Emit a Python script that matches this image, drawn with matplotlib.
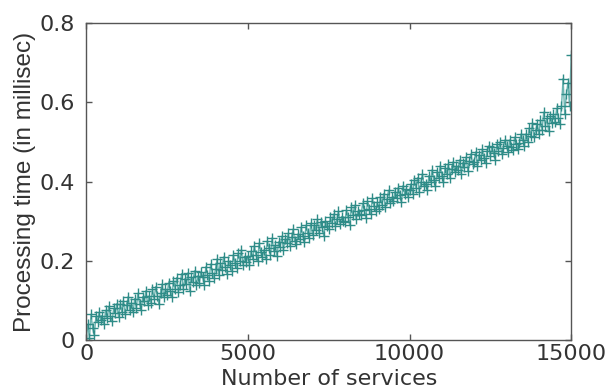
import numpy as np
import matplotlib
matplotlib.use("Agg")
import matplotlib.pyplot as plt

# number of services (step 50 from 0 to 15000)
services = np.arange(0, 15001, 50)

# processing time in millisec
proc_time = [
    0.000, 0.040, 0.005, 0.065, 0.030, 0.012, 0.060, 0.045, 0.070, 0.050,
    0.062, 0.040, 0.075, 0.055, 0.085, 0.060, 0.048, 0.080, 0.068, 0.092,
    0.058, 0.090, 0.072, 0.100, 0.065, 0.088, 0.110, 0.075, 0.095, 0.070,
    0.105, 0.080, 0.118, 0.092, 0.075, 0.110, 0.098, 0.125, 0.088, 0.112,
    0.095, 0.128, 0.105, 0.135, 0.112, 0.090, 0.120, 0.142, 0.108, 0.130,
    0.115, 0.145, 0.125, 0.108, 0.150, 0.130, 0.158, 0.122, 0.140, 0.168,
    0.130, 0.155, 0.142, 0.170, 0.125, 0.160, 0.148, 0.175, 0.138, 0.162,
    0.145, 0.172, 0.160, 0.140, 0.185, 0.165, 0.150, 0.192, 0.170, 0.158,
    0.180, 0.205, 0.165, 0.195, 0.178, 0.210, 0.185, 0.168, 0.200, 0.190,
    0.175, 0.215, 0.195, 0.182, 0.220, 0.200, 0.228, 0.190, 0.210, 0.198,
    0.212, 0.190, 0.225, 0.205, 0.238, 0.215, 0.200, 0.245, 0.222, 0.210,
    0.228, 0.205, 0.250, 0.232, 0.215, 0.258, 0.225, 0.240, 0.212, 0.248,
    0.235, 0.262, 0.228, 0.255, 0.245, 0.270, 0.238, 0.260, 0.280, 0.250,
    0.242, 0.268, 0.255, 0.285, 0.262, 0.248, 0.290, 0.270, 0.258, 0.295,
    0.265, 0.290, 0.278, 0.305, 0.270, 0.298, 0.285, 0.262, 0.300, 0.288,
    0.280, 0.310, 0.295, 0.318, 0.288, 0.305, 0.325, 0.292, 0.312, 0.300,
    0.298, 0.328, 0.310, 0.290, 0.335, 0.315, 0.340, 0.305, 0.325, 0.318,
    0.315, 0.345, 0.328, 0.308, 0.350, 0.332, 0.318, 0.358, 0.338, 0.325,
    0.348, 0.330, 0.362, 0.342, 0.370, 0.335, 0.355, 0.378, 0.345, 0.360,
    0.350, 0.375, 0.358, 0.385, 0.365, 0.348, 0.390, 0.370, 0.382, 0.362,
    0.378, 0.395, 0.368, 0.405, 0.385, 0.410, 0.375, 0.398, 0.420, 0.388,
    0.395, 0.378, 0.415, 0.400, 0.430, 0.405, 0.388, 0.425, 0.410, 0.440,
    0.415, 0.398, 0.435, 0.420, 0.445, 0.410, 0.432, 0.450, 0.425, 0.440,
    0.430, 0.455, 0.420, 0.448, 0.438, 0.462, 0.428, 0.452, 0.470, 0.445,
    0.450, 0.475, 0.440, 0.468, 0.455, 0.482, 0.460, 0.448, 0.478, 0.490,
    0.465, 0.488, 0.472, 0.455, 0.495, 0.478, 0.500, 0.470, 0.485, 0.505,
    0.490, 0.475, 0.505, 0.488, 0.480, 0.512, 0.495, 0.482, 0.498, 0.520,
    0.505, 0.490, 0.520, 0.500, 0.535, 0.515, 0.548, 0.512, 0.530, 0.545,
    0.520, 0.555, 0.530, 0.575, 0.540, 0.560, 0.528, 0.565, 0.548, 0.570,
    0.550, 0.585, 0.560, 0.545, 0.590, 0.660, 0.570, 0.620, 0.650, 0.590,
    0.720,
]

x_ticks = [0, 5000, 10000, 15000]
y_ticks = [0, 0.2, 0.4, 0.6, 0.8]
y_ticklabels = ["0", "0.2", "0.4", "0.6", "0.8"]

plt.rcParams['font.family'] = ['DejaVu Sans']

fig = plt.figure(figsize=(6.07, 3.91), dpi=100)
ax = fig.add_axes([0.142, 0.130, 0.799, 0.811])

ax.plot(services, proc_time, color='#5aaca8', linewidth=1.0, alpha=0.9)
ax.plot(services, proc_time, linestyle='none', marker='+', markersize=7,
        markeredgewidth=1.0, color='#2f8c88')

ax.set_xlim(0, 15000)
ax.set_ylim(0, 0.8)
ax.set_xticks(x_ticks)
ax.set_yticks(y_ticks)
ax.set_yticklabels(y_ticklabels)

for s in ax.spines.values():
    s.set_color('#555555')
    s.set_linewidth(1.0)
ax.tick_params(direction='in', top=True, right=True, length=4, width=1,
               color='#555555', labelsize=16, labelcolor='#333333')
ax.tick_params(axis='y', pad=8)
ax.tick_params(axis='x', pad=3)

ax.set_xlabel("Number of services", fontsize=16, color='#333333', labelpad=3)
ax.set_ylabel("Processing time (in millisec)", fontsize=17.5, color='#333333',
              family='Liberation Sans', labelpad=3)

fig.savefig("out.png", dpi=100)
